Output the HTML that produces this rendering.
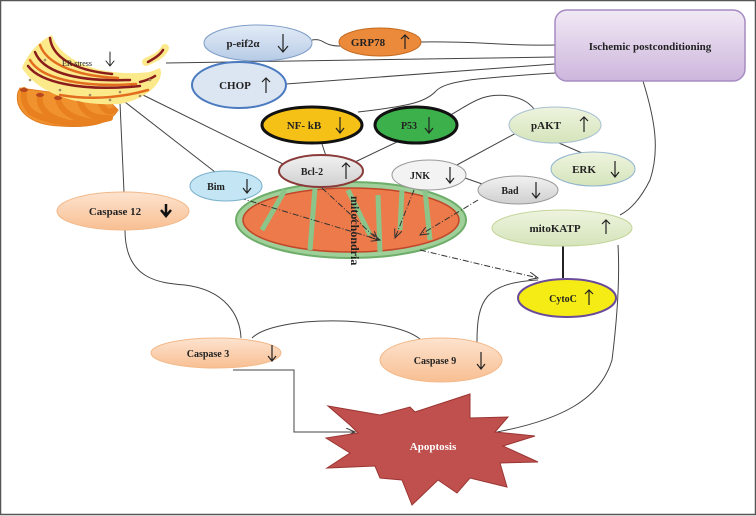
<!DOCTYPE html>
<html><head><meta charset="utf-8"><style>
html,body{margin:0;padding:0;background:#fff}
svg{display:block}
text{font-family:"Liberation Serif",serif;font-weight:bold;fill:#222}
</style></head><body>
<svg width="756" height="516" viewBox="0 0 756 516" xmlns="http://www.w3.org/2000/svg">
<defs>
<linearGradient id="box" x1="0" y1="0" x2="0" y2="1"><stop offset="0" stop-color="#f1e9f5"/><stop offset="1" stop-color="#cdb6dc"/></linearGradient>
<linearGradient id="peach" x1="0" y1="0" x2="0" y2="1"><stop offset="0" stop-color="#fde3cf"/><stop offset="1" stop-color="#f8bf92"/></linearGradient>
<linearGradient id="blue" x1="0" y1="0" x2="0" y2="1"><stop offset="0" stop-color="#e3ecf7"/><stop offset="1" stop-color="#b7cbe6"/></linearGradient>
<linearGradient id="green" x1="0" y1="0" x2="0" y2="1"><stop offset="0" stop-color="#eef4df"/><stop offset="1" stop-color="#d5e4bb"/></linearGradient>
<linearGradient id="gray" x1="0" y1="0" x2="0" y2="1"><stop offset="0" stop-color="#f2f2f2"/><stop offset="1" stop-color="#cfcfcf"/></linearGradient>
<marker id="ar" markerWidth="10" markerHeight="8" refX="9" refY="4" orient="auto"><path d="M0,0 L9,4 L0,8" fill="none" stroke="#333" stroke-width="1"/></marker>
</defs>
<rect x="0.5" y="0.5" width="755" height="514" fill="#fff" stroke="#555" stroke-width="1.5"/>

<!-- connectors -->
<g fill="none" stroke="#444" stroke-width="1">
<path d="M312,40 C325,38 322,46 340,46"/>
<path d="M421,42 C480,41 500,46 555,45"/>
<path d="M166,63 L555,57"/>
<path d="M286,84 L555,64"/>
<path d="M555,73 C480,78 445,80 435,92 C425,102 410,106 358,112"/>
<path d="M445,118 C470,105 480,92 510,96 C525,99 530,104 535,110"/>
<path d="M518,132 L455,166"/>
<path d="M552,140 L582,153"/>
<path d="M465,178 L485,185"/>
<path d="M399,141 L355,162"/>
<path d="M322,144 L326,156"/>
<path d="M143,95 L285,165"/>
<path d="M125,102 L215,172"/>
<path d="M120,103 L124,192"/>
<path d="M125,230 C125,280 160,283 185,285 C225,290 240,315 241,338"/>
<path d="M252,338 C275,315 390,315 420,339"/>
<path d="M477,342 C477,300 485,283 538,280"/>
<path d="M643,81 C655,120 660,150 650,180 C640,200 630,210 620,215"/>
<path d="M618,245 C620,280 617,320 612,360 C600,400 560,420 497,432"/>
<path d="M233,370 L294,370 L294,432 L355,432" marker-end="url(#ar)"/>
</g>
<path d="M563,246 L563,278" stroke="#222" stroke-width="2"/>

<!-- ER -->
<g fill="none" stroke-linecap="round">
<!-- orange tubes -->
<path d="M18,92 C14,110 30,125 60,126 C90,128 110,124 118,110 L108,100 L20,88 Z" fill="#f0922e" stroke="#e07a1e"/>
<g stroke="#e8801f" stroke-width="6">
<path d="M24,90 C22,105 30,115 45,118"/><path d="M40,95 C38,108 48,118 66,122"/>
<path d="M58,98 C60,112 75,120 95,122"/><path d="M80,100 C82,112 92,118 108,118"/>
<path d="M100,102 C104,110 108,114 114,110"/><path d="M30,112 C55,125 80,126 110,118"/>
</g>
<g fill="#b5461d" stroke="none">
<ellipse cx="24" cy="90" rx="4" ry="2"/><ellipse cx="40" cy="95" rx="4" ry="2"/><ellipse cx="58" cy="98" rx="4" ry="2"/><ellipse cx="80" cy="100" rx="4" ry="2"/><ellipse cx="100" cy="102" rx="4" ry="2"/>
</g>
<!-- yellow cisternae -->
<path d="M22,68 C30,48 45,38 52,35 C60,60 100,78 150,72 L160,68 C165,80 150,98 120,104 C80,106 40,96 22,68 Z" fill="#fbe98a" stroke="none"/>
<path d="M146,62 C155,58 162,55 165,48" stroke="#fbe98a" stroke-width="8"/>
<g stroke="#8b1c1c" stroke-width="2.5">
<path d="M50,38 C52,55 70,70 112,74"/>
<path d="M35,52 C42,70 70,82 130,80"/>
<path d="M28,66 C40,82 80,92 140,86"/>
<path d="M148,62 C155,58 160,55 163,50"/>
<path d="M140,82 C148,80 152,78 155,76"/>
</g>
<g stroke="#e36d1f" stroke-width="2.5">
<path d="M40,45 C46,62 72,76 118,78"/>
<path d="M30,60 C40,78 80,88 136,84"/>
<path d="M60,95 C90,100 120,98 148,90"/>
</g>
<g fill="#a08a60" stroke="none">
<circle cx="45" cy="60" r="1.3"/><circle cx="60" cy="90" r="1.3"/><circle cx="90" cy="95" r="1.3"/><circle cx="120" cy="92" r="1.3"/><circle cx="140" cy="96" r="1.3"/><circle cx="30" cy="80" r="1.3"/><circle cx="150" cy="80" r="1.3"/><circle cx="110" cy="100" r="1.3"/>
</g>
<text x="62" y="66" font-size="8" font-weight="normal" fill="#333" style="font-weight:normal">ER stress</text>
<path d="M110,52 L110,66 M106,61 L110,66 L114,61" stroke="#222"/>
</g>

<!-- mitochondria -->
<ellipse cx="351" cy="220" rx="115" ry="38" fill="#9fd09a" stroke="#6fae6a" stroke-width="2"/>
<ellipse cx="351" cy="220" rx="108" ry="32" fill="#ec7a4a" stroke="#c2472a" stroke-width="1.5"/>
<g stroke="#8cc58a" stroke-width="5">
<path d="M285,190 L262,230"/><path d="M315,188 L310,250"/><path d="M348,190 L370,235"/>
<path d="M378,195 L380,252"/><path d="M402,190 L400,230"/><path d="M425,190 L430,240"/>
</g>
<text x="0" y="0" font-size="12" font-weight="normal" transform="translate(351,196) rotate(90)" fill="#222">mitochondria</text>
<g fill="none" stroke="#333" stroke-width="1" stroke-dasharray="6,2,1,2">
<path d="M240,198 L380,240" marker-end="url(#ar)"/>
<path d="M322,188 L378,240" marker-end="url(#ar)"/>
<path d="M414,190 L395,238" marker-end="url(#ar)"/>
<path d="M478,200 L420,235" marker-end="url(#ar)"/>
<path d="M420,250 L538,278" marker-end="url(#ar)"/>
</g>

<!-- nodes -->
<rect x="555" y="10" width="190" height="71" rx="12" fill="url(#box)" stroke="#a68cc2" stroke-width="1.5"/>
<text x="650" y="50" font-size="11" text-anchor="middle">Ischemic postconditioning</text>

<ellipse cx="258" cy="43" rx="54" ry="18" fill="url(#blue)" stroke="#7f9dc8"/>
<text x="243" y="47" font-size="11" text-anchor="middle">p-eif2α</text>
<ellipse cx="380" cy="42" rx="41" ry="14" fill="#ec8a3c" stroke="#c46a20"/>
<text x="368" y="46" font-size="11" text-anchor="middle">GRP78</text>
<ellipse cx="239" cy="85" rx="47" ry="23" fill="#dce6f3" stroke="#4a7abf" stroke-width="2"/>
<text x="235" y="89" font-size="11" text-anchor="middle">CHOP</text>
<ellipse cx="312" cy="125" rx="50" ry="18" fill="#f6c117" stroke="#111" stroke-width="3"/>
<text x="304" y="129" font-size="11" text-anchor="middle">NF- kB</text>
<ellipse cx="416" cy="125" rx="41" ry="18" fill="#3cb04a" stroke="#111" stroke-width="3"/>
<text x="409" y="129" font-size="10" text-anchor="middle">P53</text>
<ellipse cx="555" cy="125" rx="46" ry="18" fill="url(#green)" stroke="#a7bfd2"/>
<text x="546" y="129" font-size="11" text-anchor="middle">pAKT</text>
<ellipse cx="593" cy="169" rx="42" ry="17" fill="url(#green)" stroke="#8fb3cf"/>
<text x="584" y="173" font-size="11" text-anchor="middle">ERK</text>
<ellipse cx="321" cy="171" rx="42" ry="16" fill="url(#gray)" stroke="#8b3a3a" stroke-width="2"/>
<text x="312" y="175" font-size="10" text-anchor="middle">Bcl-2</text>
<ellipse cx="429" cy="175" rx="37" ry="15" fill="#f3f3f3" stroke="#999"/>
<text x="420" y="179" font-size="10" text-anchor="middle">JNK</text>
<ellipse cx="518" cy="190" rx="40" ry="14" fill="url(#gray)" stroke="#999"/>
<text x="510" y="194" font-size="10" text-anchor="middle">Bad</text>
<ellipse cx="226" cy="186" rx="36" ry="15" fill="#c3e5f4" stroke="#7ab0cc"/>
<text x="216" y="190" font-size="10" text-anchor="middle">Bim</text>
<ellipse cx="123" cy="211" rx="66" ry="19" fill="url(#peach)" stroke="#f2b98a"/>
<text x="115" y="215" font-size="11" text-anchor="middle">Caspase 12</text>
<ellipse cx="562" cy="228" rx="70" ry="18" fill="url(#green)" stroke="#c3d59a"/>
<text x="555" y="232" font-size="11" text-anchor="middle">mitoKATP</text>
<ellipse cx="567" cy="298" rx="49" ry="19" fill="#f5ec15" stroke="#6a4a9a" stroke-width="2"/>
<text x="563" y="302" font-size="10" text-anchor="middle">CytoC</text>
<ellipse cx="216" cy="353" rx="65" ry="15" fill="url(#peach)" stroke="#f2b98a"/>
<text x="208" y="357" font-size="10" text-anchor="middle">Caspase 3</text>
<ellipse cx="441" cy="360" rx="61" ry="22" fill="url(#peach)" stroke="#f2b98a"/>
<text x="435" y="364" font-size="10" text-anchor="middle">Caspase 9</text>

<!-- arrows in nodes -->
<g fill="none" stroke="#222" stroke-width="1.2">
<path d="M283,34 L283,52 M278,46 L283,52 L288,46"/>
<path d="M405,35 L405,49 M401,39 L405,35 L409,39"/>
<path d="M266,78 L266,93 M262,82 L266,78 L270,82"/>
<path d="M340,117 L340,133 M336,128 L340,133 L344,128"/>
<path d="M429,117 L429,133 M425,128 L429,133 L433,128"/>
<path d="M584,117 L584,132 M580,121 L584,117 L588,121"/>
<path d="M615,161 L615,177 M611,172 L615,177 L619,172"/>
<path d="M346,163 L346,179 M342,167 L346,163 L350,167"/>
<path d="M450,167 L450,183 M446,178 L450,183 L454,178"/>
<path d="M536,182 L536,198 M532,193 L536,198 L540,193"/>
<path d="M247,179 L247,193 M243,188 L247,193 L251,188"/>
<path d="M606,220 L606,234 M602,224 L606,220 L610,224"/>
<path d="M589,290 L589,305 M585,294 L589,290 L593,294"/>
<path d="M272,345 L272,361 M268,356 L272,361 L276,356"/>
<path d="M481,352 L481,369 M477,364 L481,369 L485,364"/>
</g>
<path d="M166,204 L166,214 M161,210 L166,216 L171,210" fill="none" stroke="#111" stroke-width="2.5"/>

<!-- apoptosis -->
<polygon points="328,406 380,415 410,407 415,412 470,394 470,418 508,417 495,432 535,436 503,446 538,462 500,463 507,487 470,478 457,493 438,480 412,505 402,480 380,478 375,466 327,468 350,453 326,438 358,433 350,425" fill="#c0504d" stroke="#9a3532"/>
<text x="433" y="450" font-size="11" text-anchor="middle" style="fill:#fff">Apoptosis</text>
</svg>
</body></html>
